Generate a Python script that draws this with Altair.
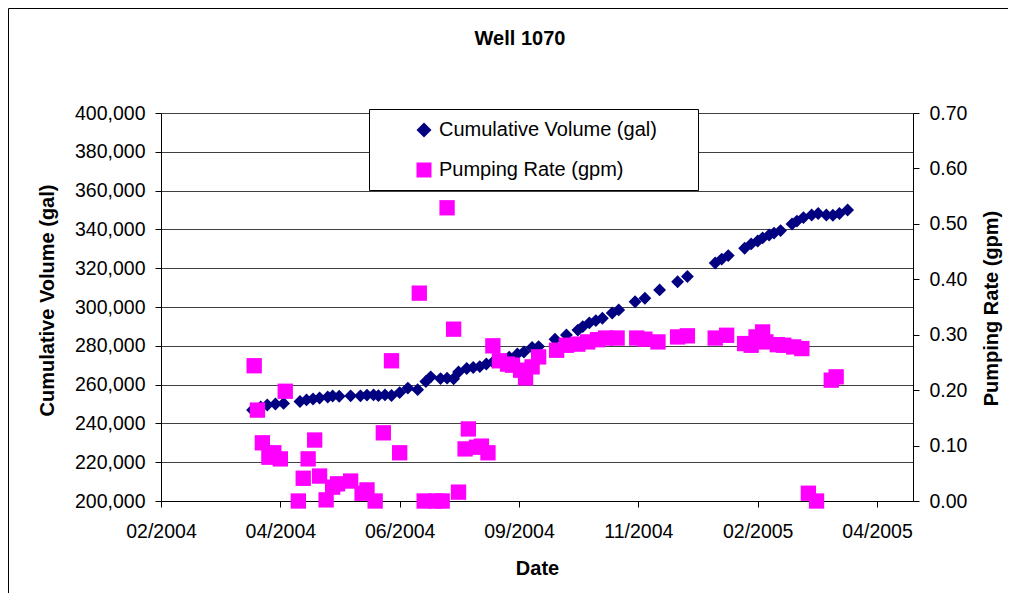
import altair as alt
import pandas as pd

SERIES = ["Cumulative Volume (gal)", "Pumping Rate (gpm)"]
COLORS = ["#000080", "#FF00FF"]
SHAPES = ["diamond", "square"]

vol_dates = [
    "2004-03-31", "2004-04-05", "2004-04-09", "2004-04-14", "2004-04-19", "2004-04-29",
    "2004-05-03", "2004-05-07", "2004-05-11", "2004-05-16", "2004-05-19", "2004-05-23",
    "2004-05-30", "2004-06-05", "2004-06-09", "2004-06-13", "2004-06-16", "2004-06-20",
    "2004-06-24", "2004-06-29", "2004-07-04", "2004-07-10", "2004-07-15", "2004-07-18",
    "2004-07-24", "2004-07-28", "2004-08-01", "2004-08-04", "2004-08-09", "2004-08-13",
    "2004-08-17", "2004-08-21", "2004-08-25", "2004-08-29", "2004-09-04", "2004-09-09",
    "2004-09-13", "2004-09-18", "2004-09-22", "2004-10-02", "2004-10-09", "2004-10-16",
    "2004-10-19", "2004-10-23", "2004-10-27", "2004-10-31", "2004-11-06", "2004-11-10",
    "2004-11-20", "2004-11-26", "2004-12-05", "2004-12-16", "2004-12-22", "2005-01-08",
    "2005-01-12", "2005-01-16", "2005-01-26", "2005-01-30", "2005-02-03", "2005-02-06",
    "2005-02-10", "2005-02-13", "2005-02-17", "2005-02-24", "2005-02-27", "2005-03-03",
    "2005-03-08", "2005-03-12", "2005-03-17", "2005-03-21", "2005-03-25", "2005-03-30",
]
vol_values = [
    246900, 248500, 249500, 250000, 250300, 251300,
    252100, 252600, 253100, 253600, 254100, 254000,
    254200, 254200, 254600, 254700, 254300, 254700,
    254400, 255900, 258200, 257400, 261600, 264000,
    263100, 263300, 263000, 266500, 268300, 268800,
    269300, 270600, 271600, 272200, 274200, 275800,
    276800, 279100, 279600, 283400, 285600, 288100,
    289900, 291800, 293000, 294200, 296900, 298500,
    302700, 304500, 308800, 313000, 315700, 322700,
    324700, 326500, 330300, 332500, 334000, 335600,
    337100, 338100, 339400, 342800, 344300, 346100,
    347400, 348200, 347400, 347300, 348200, 350000,
]

rate_dates = [
    "2004-04-01", "2004-04-03", "2004-04-06", "2004-04-10", "2004-04-13", "2004-04-17",
    "2004-04-20", "2004-04-28", "2004-05-01", "2004-05-04", "2004-05-08", "2004-05-11",
    "2004-05-15", "2004-05-19", "2004-05-22", "2004-05-30", "2004-06-06", "2004-06-09",
    "2004-06-14", "2004-06-19", "2004-06-24", "2004-06-29", "2004-07-11", "2004-07-14",
    "2004-07-21", "2004-07-25", "2004-07-28", "2004-08-01", "2004-08-04", "2004-08-08",
    "2004-08-10", "2004-08-15", "2004-08-18", "2004-08-22", "2004-08-25", "2004-08-29",
    "2004-09-03", "2004-09-06", "2004-09-11", "2004-09-14", "2004-09-18", "2004-09-22",
    "2004-10-03", "2004-10-09", "2004-10-16", "2004-10-22", "2004-10-28", "2004-11-02",
    "2004-11-09", "2004-11-21", "2004-11-26", "2004-12-04", "2004-12-16", "2004-12-22",
    "2005-01-08", "2005-01-15", "2005-01-26", "2005-01-30", "2005-02-02", "2005-02-06",
    "2005-02-08", "2005-02-15", "2005-02-19", "2005-02-25", "2005-03-02", "2005-03-06",
    "2005-03-11", "2005-03-20", "2005-03-23",
]
rate_values = [
    0.244, 0.164, 0.105, 0.079, 0.087, 0.076,
    0.198, 0.000, 0.041, 0.076, 0.110, 0.045,
    0.002, 0.025, 0.031, 0.036, 0.014, 0.020,
    0.000, 0.123, 0.253, 0.087, 0.375, 0.000,
    0.000, 0.000, 0.529, 0.310, 0.016, 0.094,
    0.130, 0.097, 0.099, 0.087, 0.280, 0.253,
    0.247, 0.245, 0.236, 0.222, 0.242, 0.260,
    0.272, 0.281, 0.283, 0.287, 0.291, 0.294,
    0.294, 0.294, 0.292, 0.287, 0.296, 0.298,
    0.294, 0.299, 0.284, 0.281, 0.296, 0.305,
    0.287, 0.282, 0.281, 0.278, 0.275, 0.014,
    0.000, 0.218, 0.224,
]

vol_ticks = list(range(200000, 400001, 20000))
rate_ticks = [0.0, 0.1, 0.2, 0.3, 0.4, 0.5, 0.6, 0.7]
x_ticks = [(2004, 2, 4), (2004, 4, 17), (2004, 6, 29), (2004, 9, 10),
           (2004, 11, 22), (2005, 2, 3), (2005, 4, 17)]
x_domain = [(2004, 2, 4), (2005, 5, 9)]

FONT = "Liberation Sans"

vol_df = pd.DataFrame({"date": [d + "T00:00:00" for d in vol_dates],
                       "value": vol_values, "series": SERIES[0]})
rate_df = pd.DataFrame({"date": [d + "T00:00:00" for d in rate_dates],
                        "value": rate_values, "series": SERIES[1]})

def dt(t):
    return alt.DateTime(year=t[0], month=t[1], date=t[2])

x_enc = alt.X(
    "date:T",
    scale=alt.Scale(domain=[dt(t) for t in x_domain], nice=False),
    axis=alt.Axis(
        title="Date", values=[dt(t) for t in x_ticks], format="%m/%Y",
        grid=False, tickSize=6, tickColor="black", domainColor="black",
        labelPadding=15, labelFlush=False, labelOverlap=False,
        labelFont=FONT, labelFontSize=19.5, labelColor="black",
        titleFont=FONT, titleFontSize=20, titleFontWeight="bold", titleColor="black",
        titleX=376, titleY=67, titleBaseline="middle", titleAlign="center",
    ),
)

legend = alt.Legend(
    title=None, orient="none", legendX=208, legendY=-4,
    labelFont=FONT, labelFontSize=20, labelColor="black", labelLimit=500,
    padding=11, rowPadding=20, symbolOffset=34, labelOffset=5,
    symbolSize=225, symbolStrokeWidth=0,
)
color_enc = alt.Color("series:N", scale=alt.Scale(domain=SERIES, range=COLORS), legend=legend)
shape_enc = alt.Shape("series:N", scale=alt.Scale(domain=SERIES, range=SHAPES), legend=legend)

vol = alt.Chart(vol_df).mark_point(filled=True, opacity=1, size=165).encode(
    x=x_enc,
    y=alt.Y(
        "value:Q",
        scale=alt.Scale(domain=[200000, 400000], nice=False, zero=False),
        axis=alt.Axis(
            title="Cumulative Volume (gal)", values=vol_ticks, format=",d",
            grid=True, gridColor="#404040", gridWidth=1,
            tickSize=6, tickColor="black", domainColor="black", labelPadding=10,
            labelFont=FONT, labelFontSize=19.5, labelColor="black",
            titleFont=FONT, titleFontSize=20, titleFontWeight="bold", titleColor="black",
            titleX=-114, titleY=187, titleAngle=270, titleBaseline="middle", titleAlign="center",
        ),
    ),
    color=color_enc, shape=shape_enc,
)

rate = alt.Chart(rate_df).mark_point(filled=True, opacity=1, size=235).encode(
    x=x_enc,
    y=alt.Y(
        "value:Q",
        scale=alt.Scale(domain=[0, 0.7], nice=False),
        axis=alt.Axis(
            orient="right", title="Pumping Rate (gpm)", values=rate_ticks, format=".2f",
            grid=False, tickSize=6, tickColor="black", domainColor="black", labelPadding=10,
            labelFont=FONT, labelFontSize=19.5, labelColor="black",
            titleFont=FONT, titleFontSize=20, titleFontWeight="bold", titleColor="black",
            titleX=78, titleY=195, titleAngle=270, titleBaseline="middle", titleAlign="center",
        ),
    ),
    color=color_enc, shape=shape_enc,
)

deco_df = pd.DataFrame({"k": [0]})
# outer chart-area border: left and top edges only (the rest lies beyond the picture)
frame_left = alt.Chart(deco_df).mark_rule(color="black", strokeWidth=1).encode(
    x=alt.value(-152.5), y=alt.value(-104.5), y2=alt.value(480))
frame_top = alt.Chart(deco_df).mark_rule(color="black", strokeWidth=1).encode(
    x=alt.value(-152.5), x2=alt.value(847), y=alt.value(-104.5))
# legend box
legend_box = alt.Chart(deco_df).mark_rect(fill="white", stroke="#000000", strokeWidth=1).encode(
    x=alt.value(208.5), x2=alt.value(537.5), y=alt.value(-3.5), y2=alt.value(77.5))

chart = alt.layer(frame_left, frame_top, vol, rate, legend_box).resolve_scale(
    y="independent"
).properties(
    width=752, height=388,
    title=alt.TitleParams(text="Well 1070", font=FONT, fontSize=20, fontWeight="bold",
                          color="black", anchor="middle", frame="group", dx=-17, offset=-57,
                          baseline="alphabetic"),
    padding={"left": 153, "top": 105, "right": 98, "bottom": 92},
    autosize=alt.AutoSizeParams(type="none"),
).configure_view(stroke=None).configure(background="white")

chart.save("out.html", embed_options={"renderer": "svg", "actions": False})
